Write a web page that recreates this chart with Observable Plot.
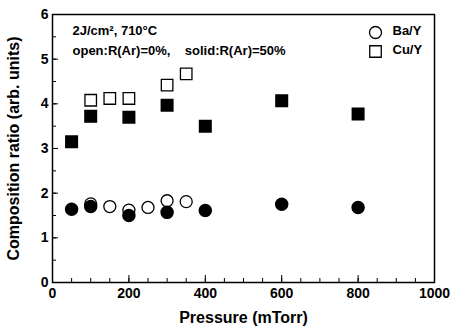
<!DOCTYPE html>
<html><head><meta charset="utf-8">
<script src="https://cdn.jsdelivr.net/npm/d3@7"></script>
<script src="https://cdn.jsdelivr.net/npm/@observablehq/plot@0.6"></script>
<style>body{margin:0;background:#fff}</style>
</head><body><div id="chart"></div>
<script>
const cuSolidP = [50, 100, 200, 300, 400, 600, 800];
const cuSolidV = [3.15, 3.72, 3.7, 3.97, 3.5, 4.07, 3.77];
const cuOpenP = [100, 150, 200, 300, 350];
const cuOpenV = [4.08, 4.12, 4.12, 4.42, 4.67];
const baSolidP = [50, 100, 200, 300, 400, 600, 800];
const baSolidV = [1.64, 1.7, 1.5, 1.57, 1.61, 1.75, 1.68];
const baOpenP = [100, 150, 200, 250, 300, 350];
const baOpenV = [1.76, 1.7, 1.62, 1.68, 1.83, 1.81];
const xTicks = [0, 200, 400, 600, 800, 1000];
const yTicks = [0, 1, 2, 3, 4, 5, 6];

const mk = (P, V) => P.map((p, i) => ({p, v: V[i]}));
const font = "Liberation Sans, Arial, sans-serif";
const xMinor = d3.range(0, 1001, 50);
const yMinor = d3.range(0, 6.01, 0.5);
const fmt = d3.format("d");

const chart = Plot.plot({
  width: 454, height: 328,
  marginLeft: 52, marginRight: 20, marginTop: 14, marginBottom: 46,
  style: {fontFamily: font, fontWeight: "bold", fontSize: "14px", background: "#fff", color: "#000"},
  x: {domain: [0, 1000]},
  y: {domain: [0, 6]},
  marks: [
    Plot.frame({stroke: "#000", strokeWidth: 1.5}),
    Plot.axisX({ticks: xTicks, tickFormat: fmt, tickSize: 0, tickPadding: 6, fontSize: 14, fontWeight: "bold",
      label: "Pressure (mTorr)", labelAnchor: "center", labelArrow: "none", labelOffset: 40}),
    Plot.axisX({ticks: xMinor, tickSize: -4, text: null, label: null}),
    Plot.axisX({ticks: [200, 400, 600, 800], tickSize: -7, text: null, label: null}),
    Plot.axisY({ticks: yTicks, tickFormat: fmt, tickSize: -6, tickPadding: 10, fontSize: 14, fontWeight: "bold",
      label: "Composition ratio (arb. units)", labelAnchor: "center", labelArrow: "none", labelOffset: 45}),
    Plot.axisY({ticks: yMinor, tickSize: -4, text: null, label: null}),
    Plot.dot(mk(baOpenP, baOpenV), {x: "p", y: "v", symbol: "circle", r: 6, fill: "#fff", stroke: "#000", strokeWidth: 1.3}),
    Plot.dot(mk(cuOpenP, cuOpenV), {x: "p", y: "v", symbol: "square", r: 6.5, fill: "#fff", stroke: "#000", strokeWidth: 1.3}),
    Plot.dot(mk(baSolidP, baSolidV), {x: "p", y: "v", symbol: "circle", r: 6, fill: "#000", stroke: "#000"}),
    Plot.dot(mk(cuSolidP, cuSolidV), {x: "p", y: "v", symbol: "square", r: 6.5, fill: "#000", stroke: "#000"}),
    Plot.text(["2J/cm², 710°C"], {frameAnchor: "top-left", dx: 20, dy: 11, fontSize: 13, fontWeight: "bold", textAnchor: "start"}),
    Plot.text(["open:R(Ar)=0%,    solid:R(Ar)=50%"], {frameAnchor: "top-left", dx: 20, dy: 31, fontSize: 13, fontWeight: "bold", textAnchor: "start"}),
    Plot.dot([0], {frameAnchor: "top-right", dx: -59, dy: 18, symbol: "circle", r: 6, fill: "#fff", stroke: "#000", strokeWidth: 1.3}),
    Plot.dot([0], {frameAnchor: "top-right", dx: -59, dy: 37, symbol: "square", r: 6.5, fill: "#fff", stroke: "#000", strokeWidth: 1.3}),
    Plot.text(["Ba/Y"], {frameAnchor: "top-right", dx: -42, dy: 11, fontSize: 13, fontWeight: "bold", textAnchor: "start"}),
    Plot.text(["Cu/Y"], {frameAnchor: "top-right", dx: -42, dy: 30, fontSize: 13, fontWeight: "bold", textAnchor: "start"})
  ]
});
chart.querySelectorAll("[aria-label='x-axis label'] text, [aria-label='y-axis label'] text").forEach(t => t.setAttribute("font-size", "16"));
document.getElementById("chart").appendChild(chart);
</script></body></html>
